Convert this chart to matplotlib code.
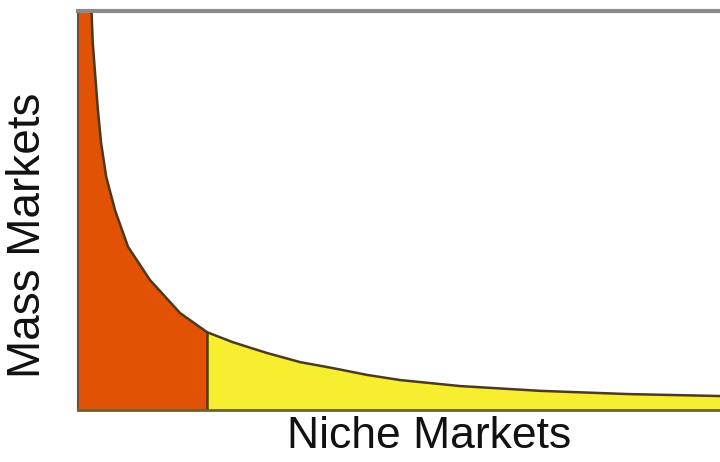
import numpy as np
import matplotlib.pyplot as plt

# long-tail demand curve: product rank vs. sales volume (both in % of axis)
rank = [1.9, 2.1, 2.3, 2.7, 3.1, 3.6, 4.4, 5.8, 7.8, 11.2, 15.9, 20.1,
        24.1, 29.4, 34.6, 39.7, 45.0, 50.2, 59.5, 72.0, 85.5, 100.0]
volume = [110.0, 100.3, 92.0, 83.5, 75.2, 66.9, 58.4, 49.9, 40.9, 32.6, 24.3, 19.5,
          17.0, 14.3, 12.0, 10.5, 8.8, 7.5, 6.0, 4.8, 4.0, 3.5]
head_end = 20.1  # where the "head" stops and the tail begins

ORANGE = "#e25205"
YELLOW = "#f7ee2f"
EDGE = "#4a3a20"

W, H = 720, 462
fig = plt.figure(figsize=(W / 100, H / 100), dpi=100)
fig.patch.set_facecolor("white")
ax = fig.add_axes([78 / W, 52 / H, 642 / W, 399 / H])

x = np.array([0.0] + rank)
y = np.array([volume[0]] + volume)

ax.fill_between(x, 0, y, where=x <= head_end, color=ORANGE, lw=0)
ax.fill_between(x, 0, y, where=x >= head_end, color=YELLOW, lw=0)
ax.plot(rank, volume, color=EDGE, lw=1.8, solid_joinstyle="round")
ax.vlines(head_end, 0, volume[rank.index(head_end)], color=EDGE, lw=1.8)

ax.set_xlim(0, 100)
ax.set_ylim(0, 100)
ax.set_xticks([])
ax.set_yticks([])

ax.spines["right"].set_visible(False)
ax.spines["top"].set_color("#8a8a8a")
ax.spines["top"].set_linewidth(3)
ax.spines["left"].set_color("#555555")
ax.spines["left"].set_linewidth(1.5)
ax.spines["bottom"].set_color("#6b6330")
ax.spines["bottom"].set_linewidth(2)

font = ["Liberation Sans", "DejaVu Sans"]
fig.text(28 / W, 1 - 235 / H, "Mass Markets", rotation=90, ha="center", va="center",
         fontsize=33, family=font, color="#111111")
fig.text(429 / W, 1 - 437 / H, "Niche Markets", ha="center", va="center",
         fontsize=32, family=font, color="#111111")

fig.savefig("out.png", dpi=100, facecolor="white")
